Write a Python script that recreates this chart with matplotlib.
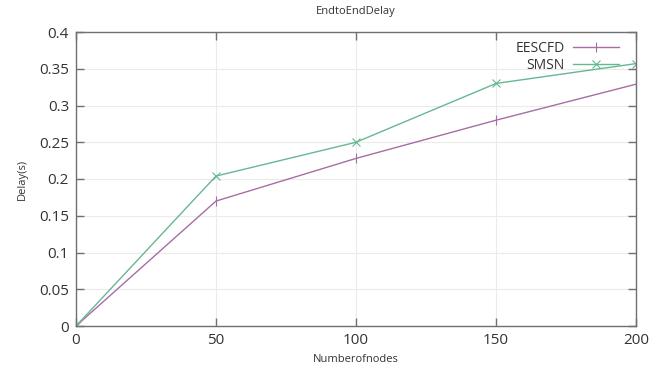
import matplotlib
matplotlib.use("Agg")
import matplotlib.pyplot as plt

nodes = [0, 50, 100, 150, 200]
eescfd = [0, 0.17, 0.228, 0.28, 0.329]
smsn = [0, 0.204, 0.25, 0.33, 0.357]
xticks = [0, 50, 100, 150, 200]
yticks = [0, 0.05, 0.1, 0.15, 0.2, 0.25, 0.3, 0.35, 0.4]
ytick_labels = ["0", "0.05", "0.1", "0.15", "0.2", "0.25", "0.3", "0.35", "0.4"]

plt.rcParams['font.family'] = ['Open Sans', 'DejaVu Sans']

fig = plt.figure(figsize=(6.63, 3.74), dpi=100)
ax = fig.add_axes([76/663, 1-326/374, (636-76)/663, (326-32)/374])

purple = '#a66ea4'
green = '#66b893'
ax.plot(nodes, eescfd, color=purple, lw=1.0, marker='|', ms=7, mew=0.8, label='EESCFD')
ax.plot(nodes, smsn, color=green, lw=1.0, marker='x', ms=6, mew=0.8, label='SMSN')

ax.set_xlim(0, 200)
ax.set_ylim(0, 0.4)
ax.set_xticks(xticks)
ax.set_yticks(yticks)
ax.set_yticklabels(ytick_labels)
ax.grid(True, color='#ebebeb', lw=0.8)
ax.set_axisbelow(True)
for s in ax.spines.values():
    s.set_color('#707070')
    s.set_linewidth(1.0)
ax.tick_params(direction='in', length=6, width=1.0, color='#707070', top=True, right=True,
               labelsize=11, labelcolor='#333333', pad=5)
ax.set_xlabel('Numberofnodes', fontsize=8, color='#333333', labelpad=4)
ax.set_ylabel('Delay(s)', fontsize=8, color='#333333', labelpad=8)
ax.set_title('EndtoEndDelay', fontsize=8, color='#333333', pad=13)

leg = ax.legend(loc='upper right', frameon=False, fontsize=10, markerfirst=False,
                handlelength=3.3, handletextpad=0.6, labelspacing=0.15,
                bbox_to_anchor=((619-76)/560, 1-9/294), borderaxespad=0, borderpad=0)
for t in leg.get_texts():
    t.set_color('#333333')

fig.savefig('out.png', dpi=100)
